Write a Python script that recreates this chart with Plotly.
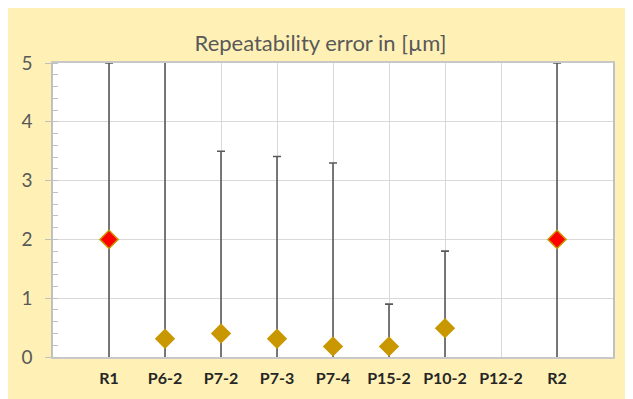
import plotly.graph_objects as go

categories = ["R1", "P6-2", "P7-2", "P7-3", "P7-4", "P15-2", "P10-2", "P12-2", "R2"]
values = [2.0, 0.31, 0.40, 0.31, 0.18, 0.18, 0.49, None, 2.0]
errors = [3.0, 5.0, 3.1, 3.1, 3.12, 0.72, 1.31, None, 3.0]
y_ticks = [0, 1, 2, 3, 4, 5]

GOLD = "#C99700"
RED = "#FF0000"
fill_colors = [RED if c.startswith("R") else GOLD for c in categories]

fig = go.Figure()
fig.add_trace(go.Scatter(
    x=categories,
    y=values,
    mode="markers",
    marker=dict(symbol="diamond", size=14, color=fill_colors,
                line=dict(color=GOLD, width=1.5)),
    error_y=dict(type="data", array=errors, symmetric=True, visible=True,
                 color="#595959", thickness=1.6, width=4),
    showlegend=False,
    hoverinfo="x+y",
))

fig.update_layout(
    width=625,
    height=391,
    margin=dict(l=45, r=20, t=55, b=39),
    paper_bgcolor="#FFF1B6",
    plot_bgcolor="#FFFFFF",
    font=dict(family="Lato, 'Open Sans', sans-serif", color="#595959"),
    title=dict(text="Repeatability error in [µm]", x=0.5, xanchor="center",
               xref="container", y=0.91, yref="container", yanchor="middle",
               font=dict(size=22, color="#595959")),
)

fig.update_xaxes(
    type="category",
    range=[-1, 9],
    showgrid=True,
    gridcolor="#D9D9D9",
    gridwidth=1,
    showline=True,
    linecolor="#C8C8C8",
    linewidth=1.5,
    mirror=True,
    ticks="",
    tickfont=dict(size=16, color="#262626", family="Lato, 'Open Sans', sans-serif", weight="bold"),
    ticklabelstandoff=6,
)

fig.update_yaxes(
    range=[0, 5],
    tickvals=y_ticks,
    showgrid=True,
    gridcolor="#D9D9D9",
    gridwidth=1,
    zeroline=False,
    showline=True,
    linecolor="#C0C0C0",
    linewidth=1.5,
    mirror=True,
    ticks="outside",
    ticklen=6,
    tickcolor="#C0C0C0",
    tickwidth=1,
    tickfont=dict(size=19, color="#595959"),
    ticklabelstandoff=9,
    minor=dict(dtick=0.2, ticks="inside", ticklen=5, tickcolor="#C0C0C0", showgrid=False),
)

fig.write_html("out.html", post_script="document.body.style.overflow='hidden';")
